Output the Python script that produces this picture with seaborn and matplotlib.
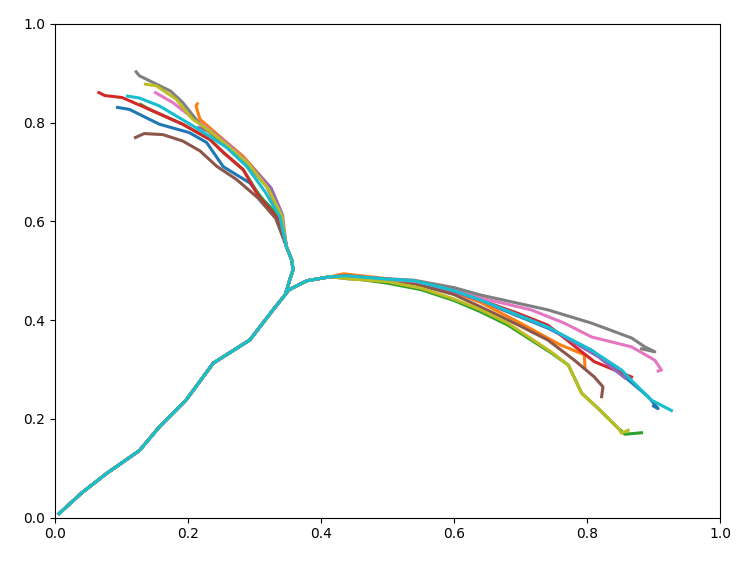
import numpy as np
import pandas as pd
import matplotlib
matplotlib.use("Agg")
import matplotlib.pyplot as plt
import seaborn as sns

# shared stem from the origin up to the fork
trunk_x = [0.006, 0.040, 0.077, 0.127, 0.157, 0.197, 0.238, 0.293, 0.328, 0.348]
trunk_y = [0.008, 0.050, 0.089, 0.136, 0.184, 0.238, 0.313, 0.360, 0.421, 0.455]

# fork -> upper-left end (points listed from the fork outwards)
fork_up_x = [0.348, 0.353, 0.358, 0.356, 0.348]
fork_up_y = [0.458, 0.482, 0.502, 0.522, 0.549]

up = {
    "blue":   ([0.337, 0.313, 0.293, 0.253, 0.228, 0.202, 0.157, 0.112, 0.094], [0.610, 0.644, 0.678, 0.711, 0.760, 0.780, 0.797, 0.827, 0.831]),
    "orange": ([0.340, 0.318, 0.283, 0.253, 0.218, 0.212, 0.214], [0.612, 0.678, 0.732, 0.766, 0.807, 0.834, 0.838]),
    "green":  ([0.336, 0.308, 0.283, 0.253, 0.233, 0.192, 0.142, 0.129], [0.610, 0.651, 0.705, 0.740, 0.766, 0.797, 0.827, 0.837]),
    "red":    ([0.334, 0.306, 0.283, 0.253, 0.233, 0.192, 0.142, 0.101, 0.075, 0.066], [0.608, 0.651, 0.705, 0.740, 0.766, 0.797, 0.827, 0.851, 0.855, 0.861]),
    "purple": ([0.342, 0.325, 0.295, 0.264, 0.238, 0.216], [0.614, 0.668, 0.712, 0.752, 0.780, 0.790]),
    "brown":  ([0.332, 0.305, 0.273, 0.243, 0.218, 0.192, 0.162, 0.134, 0.121], [0.606, 0.648, 0.685, 0.712, 0.743, 0.763, 0.776, 0.778, 0.770]),
    "pink":   ([0.339, 0.318, 0.288, 0.258, 0.228, 0.200, 0.177, 0.151], [0.612, 0.672, 0.722, 0.757, 0.790, 0.817, 0.841, 0.861]),
    "gray":   ([0.340, 0.320, 0.290, 0.263, 0.218, 0.192, 0.174, 0.127, 0.122], [0.612, 0.668, 0.715, 0.746, 0.797, 0.841, 0.864, 0.895, 0.903]),
    "olive":  ([0.341, 0.321, 0.290, 0.258, 0.233, 0.207, 0.182, 0.152, 0.136], [0.612, 0.666, 0.718, 0.755, 0.783, 0.807, 0.848, 0.875, 0.878]),
    "cyan":   ([0.338, 0.316, 0.288, 0.258, 0.235, 0.212, 0.182, 0.157, 0.127, 0.109], [0.610, 0.660, 0.712, 0.750, 0.770, 0.790, 0.814, 0.834, 0.850, 0.854]),
}

# fork -> right end
fork_right_x = [0.348, 0.358, 0.379, 0.414]
fork_right_y = [0.458, 0.466, 0.480, 0.488]

right = {
    "blue":   ([0.440, 0.500, 0.540, 0.600, 0.640, 0.741, 0.807, 0.857, 0.892, 0.907, 0.900], [0.490, 0.482, 0.479, 0.460, 0.439, 0.384, 0.339, 0.285, 0.245, 0.221, 0.226]),
    "orange": ([0.434, 0.500, 0.540, 0.600, 0.640, 0.700, 0.760, 0.796, 0.797], [0.494, 0.484, 0.477, 0.457, 0.436, 0.394, 0.350, 0.330, 0.303]),
    "green":  ([0.440, 0.500, 0.550, 0.600, 0.640, 0.681, 0.746, 0.772, 0.792, 0.817, 0.847, 0.857, 0.882], [0.486, 0.475, 0.462, 0.440, 0.417, 0.390, 0.334, 0.309, 0.252, 0.221, 0.181, 0.169, 0.172]),
    "red":    ([0.440, 0.500, 0.540, 0.600, 0.640, 0.696, 0.741, 0.766, 0.792, 0.811, 0.867], [0.490, 0.482, 0.478, 0.460, 0.441, 0.414, 0.390, 0.364, 0.336, 0.316, 0.285]),
    "purple": ([0.440, 0.500, 0.540, 0.600, 0.640, 0.741, 0.817, 0.857], [0.488, 0.482, 0.478, 0.458, 0.440, 0.386, 0.326, 0.283]),
    "brown":  ([0.440, 0.500, 0.540, 0.600, 0.640, 0.691, 0.741, 0.781, 0.811, 0.824, 0.822], [0.484, 0.480, 0.474, 0.452, 0.427, 0.394, 0.360, 0.319, 0.285, 0.265, 0.245]),
    "pink":   ([0.440, 0.500, 0.540, 0.600, 0.640, 0.716, 0.766, 0.807, 0.867, 0.902, 0.912, 0.907], [0.486, 0.482, 0.479, 0.462, 0.445, 0.421, 0.394, 0.366, 0.346, 0.319, 0.299, 0.297]),
    "gray":   ([0.440, 0.500, 0.540, 0.600, 0.640, 0.741, 0.807, 0.867, 0.887, 0.902, 0.882], [0.488, 0.484, 0.481, 0.466, 0.451, 0.421, 0.394, 0.364, 0.346, 0.336, 0.342]),
    "olive":  ([0.440, 0.500, 0.550, 0.600, 0.640, 0.681, 0.746, 0.772, 0.792, 0.817, 0.847, 0.852, 0.862], [0.484, 0.478, 0.465, 0.443, 0.421, 0.394, 0.336, 0.309, 0.252, 0.221, 0.181, 0.171, 0.177]),
    "cyan":   ([0.440, 0.500, 0.540, 0.600, 0.640, 0.741, 0.807, 0.852, 0.867, 0.897, 0.927], [0.490, 0.483, 0.480, 0.460, 0.441, 0.386, 0.339, 0.299, 0.278, 0.238, 0.217]),
}

runs = list(up.keys())

rows = []
for run in runs:
    segs = {
        "trunk": (trunk_x, trunk_y),
        "up": (fork_up_x + up[run][0], fork_up_y + up[run][1]),
        "right": (fork_right_x + right[run][0], fork_right_y + right[run][1]),
    }
    for seg, (xs, ys) in segs.items():
        for i, (x, y) in enumerate(zip(xs, ys)):
            rows.append({"run": run, "seg": run + "_" + seg, "i": i, "x": x, "y": y})
df = pd.DataFrame(rows)

fig = plt.figure(figsize=(7.5, 5.63), dpi=100)
ax = fig.add_axes([0.0733, 0.0805, 0.8867, 0.8769])

sns.lineplot(data=df, x="x", y="y", hue="run", units="seg", estimator=None,
             sort=False, palette=sns.color_palette("tab10", 10), hue_order=runs,
             linewidth=2.2, legend=False, ax=ax)

ax.set_xlim(0, 1)
ax.set_ylim(0, 1)
ax.set_xticks(np.arange(0, 1.01, 0.2))
ax.set_yticks(np.arange(0, 1.01, 0.2))
ax.set_xlabel("")
ax.set_ylabel("")

fig.savefig("out.png", dpi=100)
